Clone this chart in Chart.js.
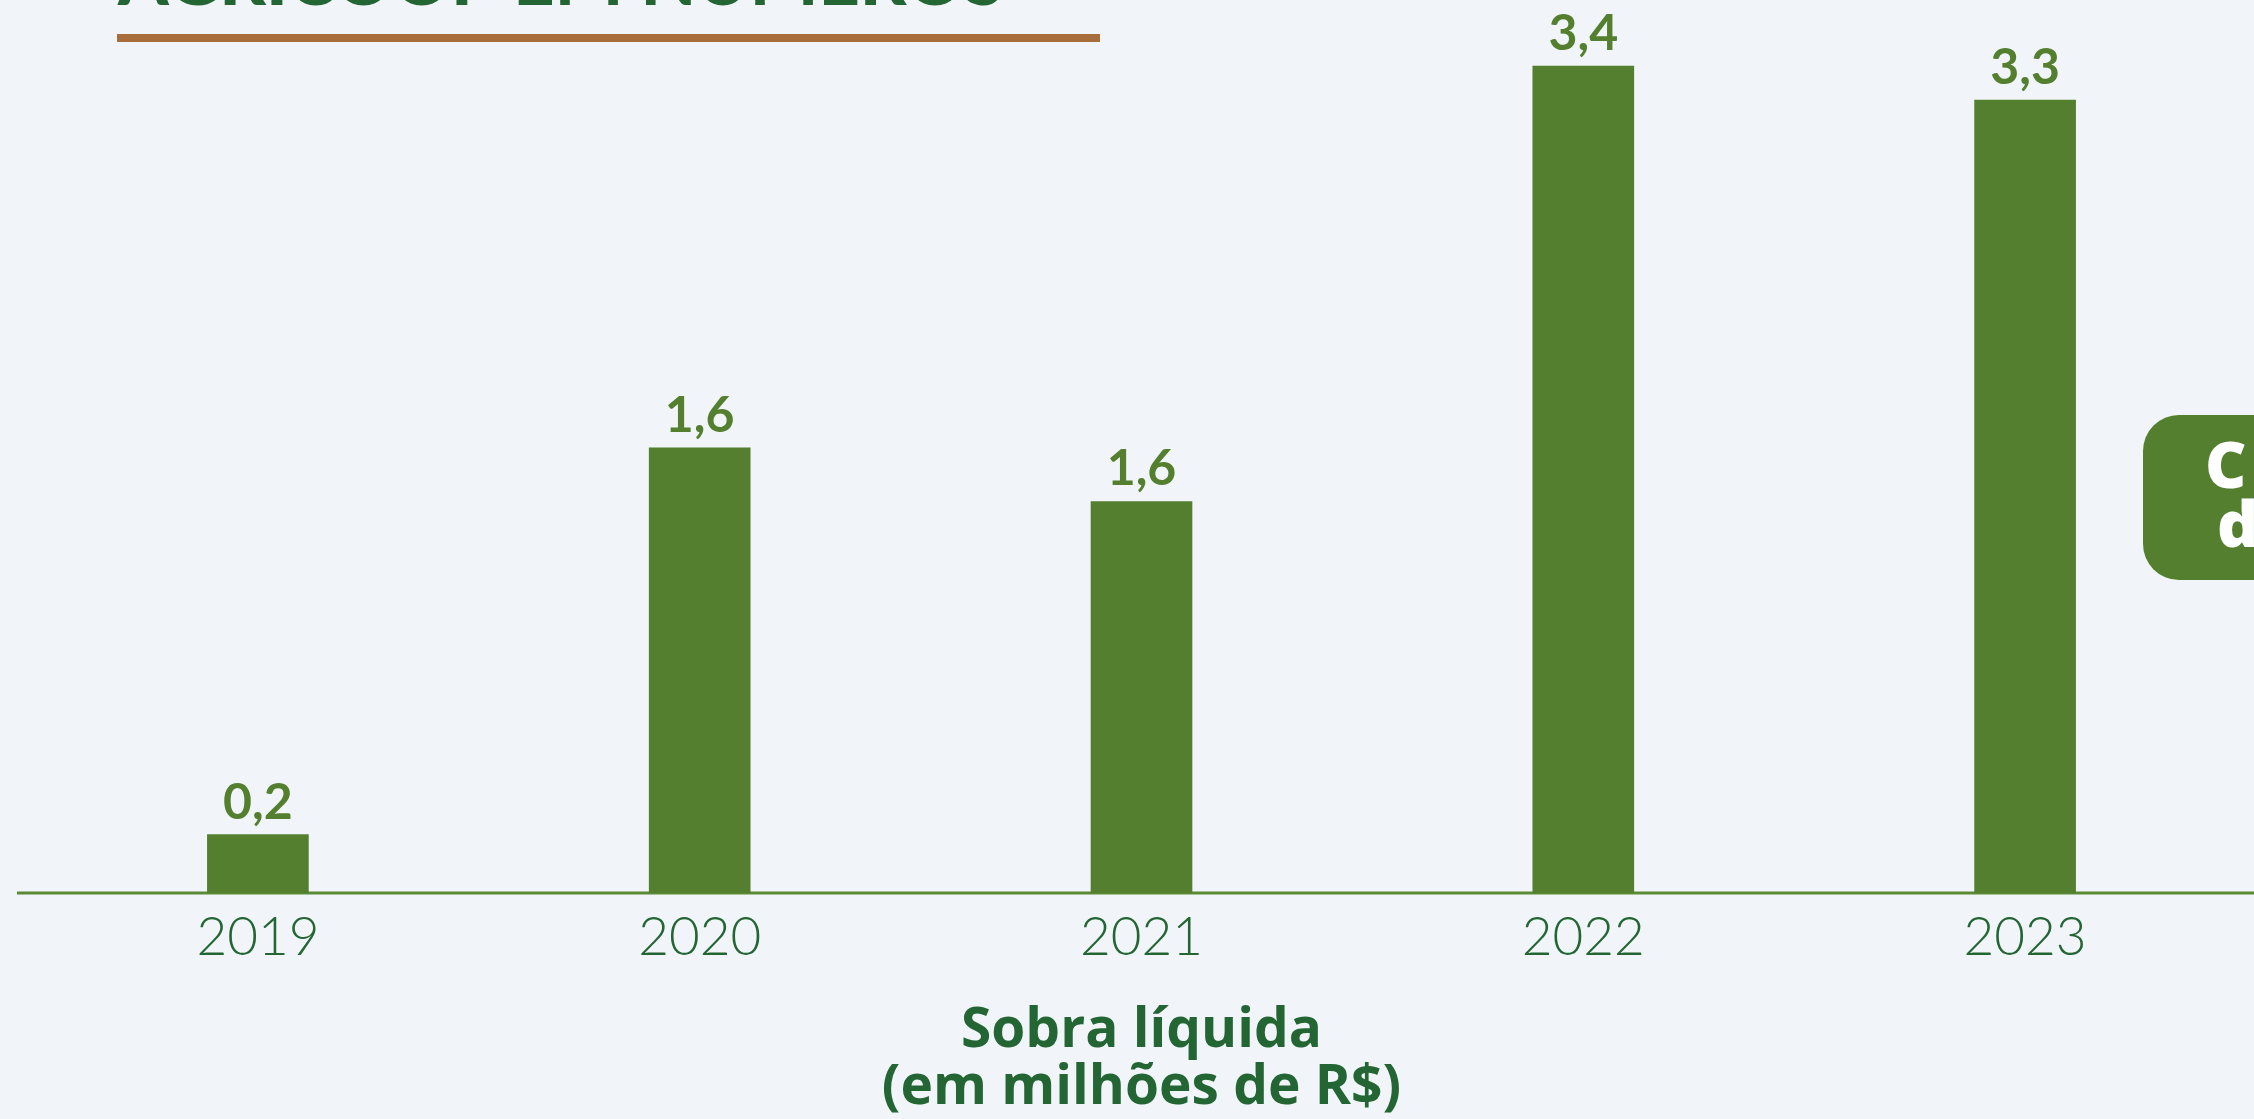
<!DOCTYPE html>
<html>
<head>
<meta charset="utf-8">
<script src="https://cdn.jsdelivr.net/npm/chart.js@4.4.1/dist/chart.umd.min.js"></script>
<style>
  html, body { margin: 0; padding: 0; background: #f1f5f9; }
  #wrap { width: 2254px; height: 1119px; position: relative; }
</style>
</head>
<body>
<div id="wrap"><canvas id="sobraChart"></canvas></div>
<script>
// Sobra líquida (em milhões de R$)
const years = ['2019', '2020', '2021', '2022', '2023'];
// heights of the bars as drawn in the picture
const sobra = [0.24, 1.83, 1.61, 3.4, 3.26];
// numbers printed on top of the bars
const sobraText = ['0,2', '1,6', '1,6', '3,4', '3,3'];

const verde = '#537f2e';
const verdeEscuro = '#236634';

// page pieces around the chart (title cut at top, side box, baseline)
const pagina = {
  id: 'pagina',
  beforeDraw(chart) {
    const c = chart.ctx;
    c.save();
    c.fillStyle = '#f1f5f9';
    c.fillRect(0, 0, chart.width, chart.height);

    // slide title, only its bottom edge shows
    c.fillStyle = verdeEscuro;
    c.font = '900 80px Lato';
    const w = c.measureText('AGRICOOP EM NÚMEROS').width;
    const size = 80 * 886 / w;
    c.font = '900 ' + size + 'px Lato';
    c.textBaseline = 'alphabetic';
    c.textAlign = 'left';
    c.fillText('AGRICOOP EM NÚMEROS', 118, 5);

    c.fillStyle = '#a86d3d';
    c.fillRect(117, 34, 983, 8);

    // green box on the right
    c.fillStyle = verde;
    c.beginPath();
    c.roundRect(2143, 415, 200, 165, 36);
    c.fill();
    c.fillStyle = '#ffffff';
    c.font = '800 64px "Open Sans"';
    c.fillText('C', 2205, 488);
    c.fillText('d', 2217, 547);
    c.restore();
  },
  beforeDatasetsDraw(chart) {
    const c = chart.ctx;
    const y = chart.scales.y.getPixelForValue(0);
    c.save();
    c.strokeStyle = '#5b8a35';
    c.lineWidth = 3;
    c.beginPath();
    c.moveTo(17, y);
    c.lineTo(chart.width, y);
    c.stroke();
    c.restore();
  },
  afterDatasetsDraw(chart) {
    const c = chart.ctx;
    const meta = chart.getDatasetMeta(0);
    c.save();
    c.fillStyle = verde;
    c.font = '700 50px Lato';
    c.textAlign = 'center';
    c.textBaseline = 'alphabetic';
    meta.data.forEach((bar, i) => {
      c.fillText(sobraText[i], bar.x, bar.y - 16);
    });
    c.restore();
  }
};

const ctx = document.getElementById('sobraChart').getContext('2d');

new Chart(ctx, {
  type: 'bar',
  data: {
    labels: years,
    datasets: [{
      label: 'Sobra líquida',
      data: sobra,
      backgroundColor: verde,
      borderWidth: 0,
      barThickness: 101
    }]
  },
  options: {
    responsive: true,
    maintainAspectRatio: false,
    animation: false,
    layout: { padding: { left: 37, right: 8, top: 17.5, bottom: 0 } },
    plugins: {
      legend: { display: false },
      tooltip: { enabled: false }
    },
    scales: {
      y: {
        display: false,
        min: 0,
        max: 3.6
      },
      x: {
        grid: { display: false, drawTicks: false, tickLength: 0 },
        border: { display: false },
        ticks: {
          color: verdeEscuro,
          padding: 13,
          font: { family: 'Lato', weight: 300, size: 53 }
        },
        title: {
          display: true,
          text: ['Sobra líquida', '(em milhões de R$)'],
          color: verdeEscuro,
          padding: { top: 0, bottom: 2 },
          font: { family: 'Open Sans', weight: 700, size: 55, lineHeight: 1.04 }
        },
        afterFit(scale) {
          scale.height = 226;
        }
      }
    }
  },
  plugins: [pagina]
});
</script>
</body>
</html>
